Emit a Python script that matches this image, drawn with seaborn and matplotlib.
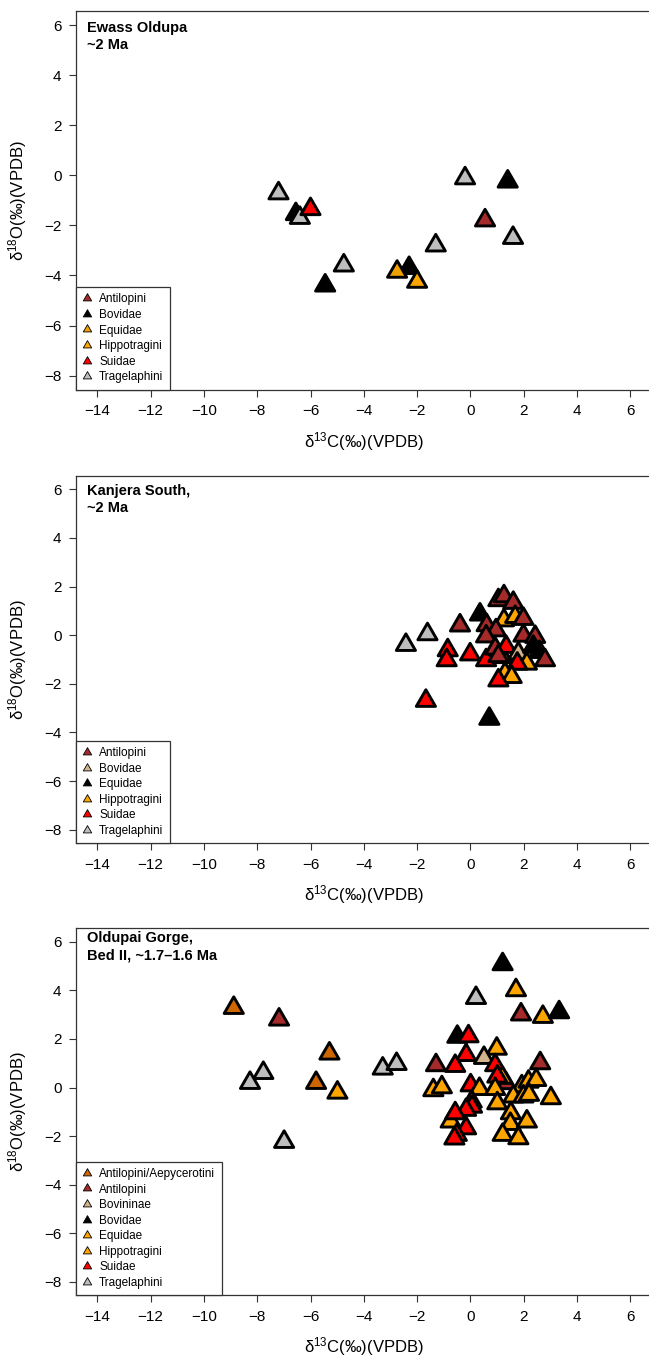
import pandas as pd
import seaborn as sns
import matplotlib.pyplot as plt
from matplotlib.lines import Line2D
from matplotlib.path import Path


# Ewass Oldupa, ~2 Ma
ewass_taxon = ['Tragelaphini', 'Bovidae', 'Tragelaphini', 'Suidae', 'Tragelaphini', 'Bovidae',
               'Bovidae', 'Equidae', 'Hippotragini', 'Tragelaphini', 'Tragelaphini', 'Bovidae',
               'Antilopini', 'Tragelaphini']
ewass_d13c = [-7.2, -6.55, -6.4, -6.0, -4.75, -5.45, -2.3, -2.75, -2.0, -1.3, -0.2, 1.4, 0.55, 1.6]
ewass_d18o = [-0.72, -1.55, -1.7, -1.35, -3.6, -4.4, -3.7, -3.85, -4.25, -2.8, -0.12, -0.25, -1.8, -2.5]
ewass_groups = ['Antilopini', 'Bovidae', 'Equidae', 'Hippotragini', 'Suidae', 'Tragelaphini']
ewass_colors = ['#A52A2A', '#000000', '#F0A000', '#FFA500', '#FF0000', '#BEBEBE']

# Kanjera South, ~2 Ma
kanjera_taxon = ['Tragelaphini', 'Tragelaphini', 'Antilopini', 'Suidae', 'Suidae', 'Suidae',
                 'Suidae', 'Equidae', 'Equidae', 'Suidae', 'Antilopini', 'Antilopini',
                 'Antilopini', 'Hippotragini', 'Hippotragini', 'Antilopini', 'Antilopini',
                 'Antilopini', 'Antilopini', 'Antilopini', 'Antilopini', 'Hippotragini',
                 'Antilopini', 'Suidae', 'Antilopini', 'Bovidae', 'Equidae', 'Equidae',
                 'Antilopini', 'Hippotragini', 'Suidae', 'Hippotragini', 'Hippotragini', 'Suidae']
kanjera_d13c = [-2.42, -1.61, -0.39, -0.85, -0.89, -0.01,
                -1.67, 0.71, 0.36, 0.59, 1.05, 1.26,
                1.61, 1.26, 1.68, 1.99, 0.61,
                0.96, 0.59, 1.99, 2.43, 1.2,
                0.93, 1.34, 1.05, 1.80, 2.36, 2.59,
                2.80, 2.12, 1.76, 1.30, 1.55, 1.05]
kanjera_d18o = [-0.40, 0.04, 0.40, -0.62, -1.03, -0.79,
                -2.70, -3.44, 0.85, -1.03, 1.44, 1.60,
                1.33, 0.61, 0.75, 0.67, 0.41,
                0.20, -0.05, -0.02, -0.07, -0.9,
                -0.55, -0.48, -0.86, -0.75, -0.48, -0.69,
                -1.03, -1.17, -1.17, -1.58, -1.72, -1.86]
kanjera_groups = ['Antilopini', 'Bovidae', 'Equidae', 'Hippotragini', 'Suidae', 'Tragelaphini']
kanjera_colors = ['#A52A2A', '#D2B48C', '#000000', '#FFA500', '#FF0000', '#BEBEBE']

# Olduvai Gorge, Bed II, ~1.7-1.6 Ma
oldupai_taxon = ['Antilopini/Aepycerotini', 'Antilopini', 'Antilopini/Aepycerotini', 'Tragelaphini',
                 'Tragelaphini', 'Antilopini/Aepycerotini', 'Equidae', 'Tragelaphini', 'Tragelaphini',
                 'Tragelaphini', 'Bovidae', 'Hippotragini', 'Tragelaphini', 'Antilopini',
                 'Hippotragini', 'Bovidae', 'Bovidae', 'Suidae', 'Suidae', 'Hippotragini',
                 'Bovininae', 'Antilopini', 'Suidae', 'Antilopini', 'Suidae', 'Antilopini',
                 'Hippotragini', 'Suidae', 'Equidae', 'Equidae', 'Suidae', 'Hippotragini',
                 'Equidae', 'Hippotragini', 'Equidae', 'Hippotragini', 'Equidae', 'Equidae',
                 'Hippotragini', 'Equidae', 'Equidae', 'Suidae', 'Suidae', 'Suidae', 'Equidae',
                 'Suidae', 'Suidae', 'Suidae', 'Suidae', 'Hippotragini', 'Equidae',
                 'Hippotragini', 'Equidae', 'Equidae']
oldupai_d13c = [-8.88, -7.18, -5.29, -7.77,
                -8.27, -5.79, -4.99, -3.29, -2.77,
                -6.99, 1.21, 1.71, 0.21, 1.90,
                2.72, 3.33, -0.49, -0.07, -0.16, 0.99,
                0.51, -1.29, -0.57, 2.62, 0.93, 1.33,
                1.2, 1.01, -1.39, -1.07, 0.01, 0.34,
                0.93, 1.93, 2.18, 2.47, 1.61, 1.99,
                2.2, 3.02, 1.01, 0.05, 0.06, -0.16, -0.74,
                -0.57, -0.16, -0.51, -0.6, 1.52, 1.5,
                2.12, 1.21, 1.80]
oldupai_d18o = [3.28, 2.80, 1.40, 0.60,
                0.19, 0.19, -0.21, 0.78, 0.97,
                -2.24, 5.08, 4.01, 3.69, 3.01,
                2.91, 3.10, 2.09, 2.11, 1.34, 1.60,
                1.22, 0.92, 0.89, 1.00, 0.92, 0.18,
                0.4, 0.45, -0.11, 0.01, 0.09, -0.06,
                -0.06, 0.05, 0.24, 0.31, -0.37, -0.37,
                -0.3, -0.44, -0.65, -0.58, -0.79, -0.92, -1.40,
                -1.06, -1.68, -1.95, -2.1, -1.06, -1.5,
                -1.40, -1.95, -2.09]
oldupai_groups = ['Antilopini/Aepycerotini', 'Antilopini', 'Bovininae', 'Bovidae', 'Equidae',
                  'Hippotragini', 'Suidae', 'Tragelaphini']
oldupai_colors = ['#CD6600', '#A52A2A', '#D2B48C', '#000000', '#FFA500', '#FFA500', '#FF0000', '#BEBEBE']

sites = ['Ewass Oldupa\n~2 Ma', 'Kanjera South,\n~2 Ma', 'Oldupai Gorge,\nBed II, ~1.7\u20131.6 Ma']

sns.set_style('ticks')
plt.rcParams['font.family'] = ['Liberation Sans', 'DejaVu Sans']
plt.rcParams['mathtext.fontset'] = 'custom'
plt.rcParams['mathtext.rm'] = 'Liberation Sans'
plt.rcParams['mathtext.it'] = 'Liberation Sans'
plt.rcParams['text.color'] = 'black'
plt.rcParams['axes.labelcolor'] = 'black'

W, H = 649, 1357
fig = plt.figure(figsize=(W / 100, H / 100), dpi=100)

# axes boxes in pixels: left, top, right, bottom
boxes = [(76, 11, 651.6, 389.7), (76, 475.7, 651.6, 843.3), (76, 928.3, 651.6, 1295.3)]
title_offsets = [(8, -7), (8, -6), (8, -2)]
# R pch 24 style triangle, centred on its centroid
tri = Path([(0, 1), (-0.866, -0.5), (0.866, -0.5), (0, 1)], closed=True)

panels = [
    (ewass_taxon, ewass_d13c, ewass_d18o, ewass_groups, ewass_colors),
    (kanjera_taxon, kanjera_d13c, kanjera_d18o, kanjera_groups, kanjera_colors),
    (oldupai_taxon, oldupai_d13c, oldupai_d18o, oldupai_groups, oldupai_colors),
]

for i, (taxon, d13c, d18o, groups, colors) in enumerate(panels):
    l, t, r, b = boxes[i]
    ax = fig.add_axes([l / W, 1 - b / H, (r - l) / W, (b - t) / H])
    df = pd.DataFrame({'taxon': taxon, 'd13C': d13c, 'd18O': d18o})
    pal = dict(zip(groups, colors))
    sns.scatterplot(data=df, x='d13C', y='d18O', hue='taxon', palette=pal, marker=tri,
                    s=255, edgecolor='black', linewidth=2.1, legend=False, ax=ax, zorder=3)
    ax.set_xlim(-14.8, 6.8)
    ax.set_ylim(-8.56, 6.56)
    ax.set_xticks(range(-14, 7, 2))
    ax.set_yticks(range(-8, 7, 2))
    ax.tick_params(labelsize=11, length=5, width=0.8, color='#333333', labelcolor='black', pad=5.5)
    for sp in ax.spines.values():
        sp.set_visible(True)
        sp.set_linewidth(0.9)
        sp.set_color('#333333')
    ax.set_xlabel('\u03b4$^{13}$C(\u2030)(VPDB)', fontsize=12)
    ax.set_ylabel('\u03b4$^{18}$O(\u2030)(VPDB)', fontsize=12)
    ax.xaxis.set_label_coords(0.5, -40 / (b - t))
    ax.yaxis.set_label_coords(-47 / (r - l), 0.5)
    ax.annotate(sites[i], xy=(0, 1), xycoords='axes fraction', xytext=title_offsets[i],
                textcoords='offset points', ha='left', va='top', fontsize=10.5,
                fontweight='bold', linespacing=1.3)
    handles = [Line2D([], [], ls='none', marker=tri, markersize=7, markerfacecolor=c,
                      markeredgecolor='black', markeredgewidth=0.6) for c in colors]
    leg = ax.legend(handles, groups, loc='lower left', bbox_to_anchor=(0, 0), borderaxespad=0,
                    frameon=True, fancybox=False, fontsize=8.5, handlelength=0.8,
                    handletextpad=0.6, labelspacing=0.3, borderpad=0.55, framealpha=1)
    leg.get_frame().set_edgecolor('#333333')
    leg.get_frame().set_linewidth(0.9)
    leg.set_zorder(5)

fig.savefig('out.png', dpi=100)
